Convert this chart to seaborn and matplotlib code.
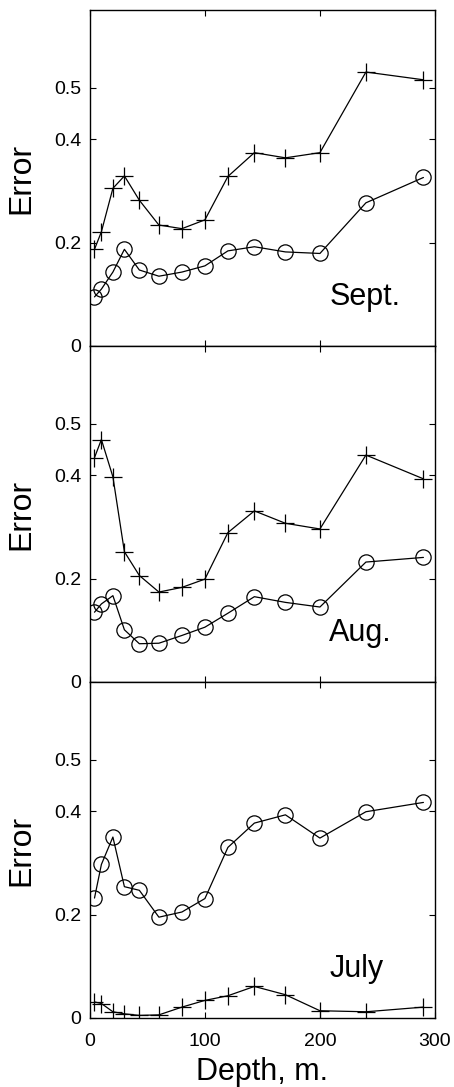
import numpy as np
import pandas as pd
import matplotlib
matplotlib.use("Agg")
import matplotlib.pyplot as plt
import seaborn as sns

# depths (m) shared by every panel
depth = [4, 10, 20, 30, 43, 60, 80, 100, 120, 143, 170, 200, 240, 290]

# error values, '+' series and 'o' series per month
sept_plus = [0.187, 0.221, 0.305, 0.329, 0.282, 0.234, 0.227, 0.244, 0.328, 0.374, 0.364, 0.374, 0.530, 0.515]
sept_circ = [0.095, 0.110, 0.143, 0.187, 0.147, 0.135, 0.143, 0.155, 0.184, 0.192, 0.182, 0.179, 0.277, 0.326]

aug_plus = [0.434, 0.469, 0.397, 0.252, 0.206, 0.174, 0.183, 0.199, 0.289, 0.331, 0.307, 0.296, 0.439, 0.393]
aug_circ = [0.135, 0.151, 0.167, 0.101, 0.074, 0.075, 0.090, 0.106, 0.133, 0.165, 0.154, 0.145, 0.232, 0.241]

july_plus = [0.031, 0.028, 0.012, 0.008, 0.005, 0.006, 0.021, 0.034, 0.043, 0.061, 0.045, 0.014, 0.012, 0.021]
july_circ = [0.232, 0.297, 0.350, 0.254, 0.247, 0.195, 0.205, 0.231, 0.330, 0.377, 0.393, 0.348, 0.399, 0.417]

months = ["Sept.", "Aug.", "July"]
plus_series = [sept_plus, aug_plus, july_plus]
circ_series = [sept_circ, aug_circ, july_circ]

yticks = [0, 0.2, 0.4, 0.5]
ytick_labels = ["0", "0.2", "0.4", "0.5"]
xticks = [0, 100, 200, 300]

sns.set_style("ticks")
plt.rcParams["font.family"] = ["Liberation Sans", "DejaVu Sans"]
plt.rcParams["axes.linewidth"] = 1.0
plt.rcParams["text.color"] = "black"
plt.rcParams["axes.labelcolor"] = "black"
plt.rcParams["xtick.color"] = "black"
plt.rcParams["ytick.color"] = "black"
plt.rcParams["axes.edgecolor"] = "black"

fig, axes = plt.subplots(3, 1, sharex=True, figsize=(4.54, 10.87), dpi=100)
fig.subplots_adjust(left=0.198, right=0.958, top=0.9908, bottom=0.0635, hspace=0)

for ax, month, plus, circ in zip(axes, months, plus_series, circ_series):
    df = pd.DataFrame({"depth": depth, "plus": plus, "circ": circ})
    sns.lineplot(data=df, x="depth", y="plus", ax=ax, color="black", lw=0.9,
                 marker="+", markersize=13, markeredgewidth=0.9,
                 markeredgecolor="black")
    sns.lineplot(data=df, x="depth", y="circ", ax=ax, color="black", lw=0.9,
                 marker="o", markersize=11, markeredgewidth=0.9,
                 markeredgecolor="black", markerfacecolor="none")

    ax.set_xlim(0, 300)
    ax.set_ylim(0, 0.65)
    ax.set_yticks(yticks)
    ax.set_yticklabels(ytick_labels)
    ax.set_xticks(xticks)
    ax.tick_params(axis="both", which="both", direction="in", length=4,
                   width=0.8, labelsize=14, top=True, right=True, pad=6,
                   colors="black")
    ax.set_ylabel("Error", fontsize=23, labelpad=13)
    ax.set_xlabel("")
    ax.text(208, 0.079, month, fontsize=22, va="baseline", ha="left")

axes[-1].set_xticklabels([str(t) for t in xticks])
axes[-1].tick_params(axis="x", pad=11)
axes[-1].set_xlabel("Depth, m.", fontsize=22, labelpad=5)

fig.savefig("out.png", dpi=100)
plt.close(fig)
